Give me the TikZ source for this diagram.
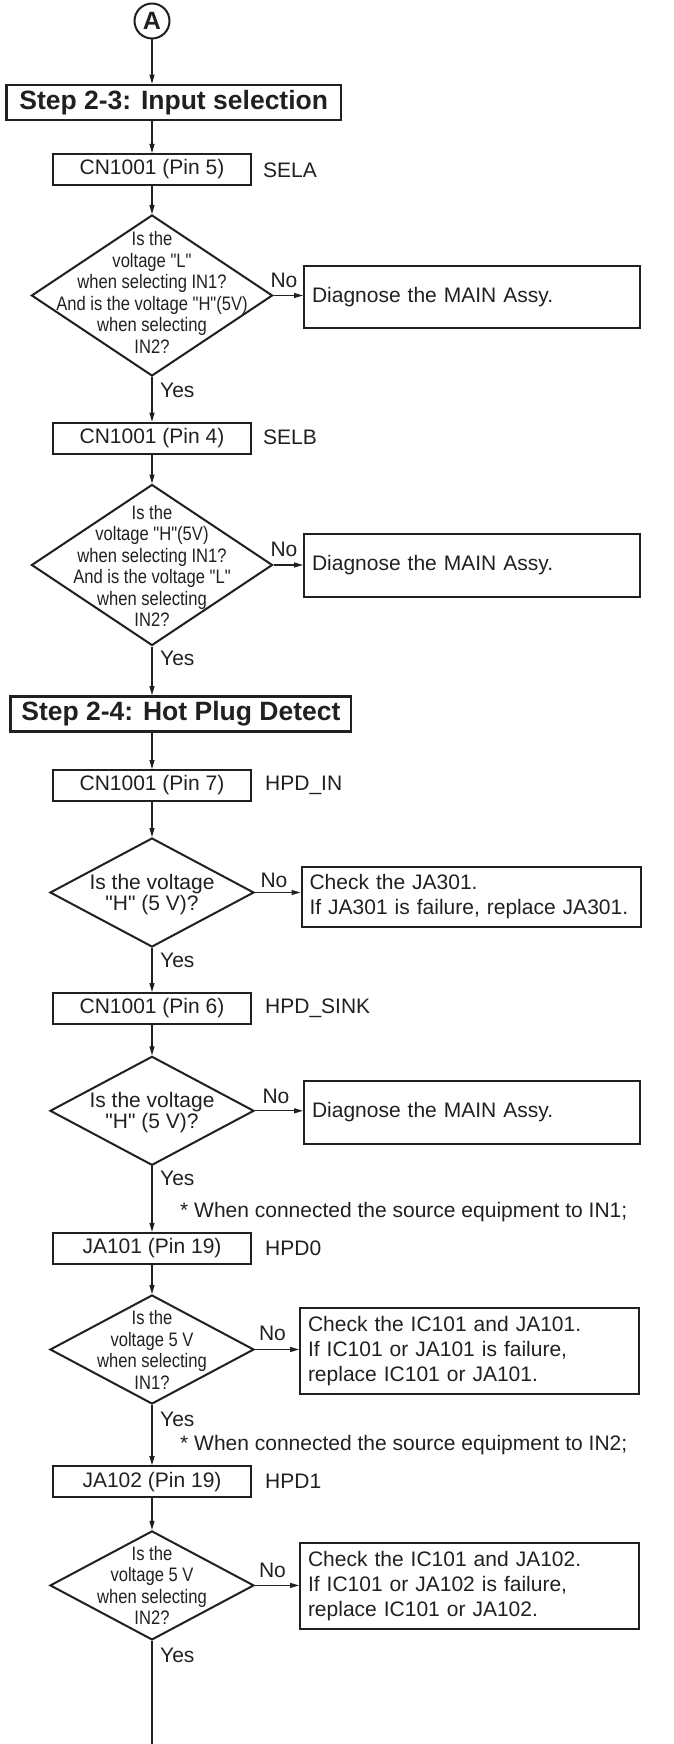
\documentclass[tikz,border=0pt]{standalone}
\usepackage{fontspec}
\setmainfont{Liberation Sans}[Ligatures=TeXOff]
\newfontfamily\condfont{Liberation Sans}[FakeStretch=0.85]
\usetikzlibrary{arrows.meta,shapes.geometric}
\definecolor{ink}{RGB}{35,31,32}
\begin{document}
\begin{tikzpicture}[x=1pt,y=-1pt,
  every node/.style={text=ink},
  titlebox/.style={draw=ink,line width=2.6pt,font=\bfseries\fontsize{26.5}{30}\selectfont,inner sep=0pt,minimum height=35pt},
  pinbox/.style={draw=ink,line width=2pt,font=\fontsize{21}{25}\selectfont,minimum width=198pt,minimum height=31pt,inner sep=0pt},
  dia/.style={draw=ink,line width=2pt,shape=diamond,inner sep=0pt},
  bigdia/.style={dia,minimum width=241pt,minimum height=161pt},
  smalldia/.style={dia,minimum width=204pt,minimum height=109pt},
  ctext/.style={font=\condfont\fontsize{19.5}{21.5}\selectfont,align=center,inner sep=0pt},
  ntext/.style={font=\fontsize{21}{21}\selectfont,align=center,inner sep=0pt},
  diagbox/.style={draw=ink,line width=2pt,font=\fontsize{21}{25}\selectfont,align=left,inner xsep=8pt,inner ysep=0pt,text width=320pt},
  checkbox/.style={draw=ink,line width=2pt,font=\fontsize{21}{25}\selectfont,align=left,inner xsep=8pt,inner ysep=0pt,text width=323pt},
  lbl/.style={font=\fontsize{21}{25}\selectfont,inner sep=0pt,anchor=west},
  nolbl/.style={font=\fontsize{21}{25}\selectfont,inner sep=0pt},
  conn/.style={draw=ink,line width=1.1pt,-{Triangle[length=9pt,width=5pt]}},
  plain/.style={draw=ink,line width=1.1pt},
  ]
\useasboundingbox (0,0) rectangle (673,1744);

% --- A ---
\node[circle,draw=ink,line width=2pt,minimum size=35pt,inner sep=0pt,font=\bfseries\fontsize{25}{25}\selectfont] (A) at (152,21) {A};

% --- Step 2-3 ---
\node[titlebox,minimum width=334.6pt] (s23) at (173.7,102.5) {Step 2-3: Input selection};
\node[pinbox] (p5) at (152,169.5) {CN1001 (Pin 5)};
\node[lbl] (sela) at (263,170) {SELA};

\node[bigdia] (d1) at (152,295.5) {};
\node[ctext] (d1t) at (152,292.5) {Is the\\voltage "L"\\when selecting IN1?\\And is the voltage "H"(5V)\\when selecting\\IN2?};
\node[diagbox,minimum height=62pt] (r1) at (472,297) {Diagnose the MAIN Assy.};
\node[nolbl] (n1) at (284,280) {No};
\node[lbl] (y1) at (160,390) {Yes};

\node[pinbox] (p4) at (152,438.2) {CN1001 (Pin 4)};
\node[lbl] (selb) at (263,437.5) {SELB};

\node[bigdia] (d2) at (152,565) {};
\node[ctext] (d2t) at (152,566) {Is the\\voltage "H"(5V)\\when selecting IN1?\\And is the voltage "L"\\when selecting\\IN2?};
\node[diagbox,minimum height=63pt] (r2) at (472,565.5) {Diagnose the MAIN Assy.};
\node[nolbl] (n2) at (284,549) {No};
\node[lbl] (y2) at (160,658) {Yes};

% --- Step 2-4 ---
\node[titlebox,minimum width=340.3pt] (s24) at (180.9,713.9) {Step 2-4: Hot Plug Detect};
\node[pinbox] (p7) at (152,785.5) {CN1001 (Pin 7)};
\node[lbl] (hpdin) at (265,785) {HPD\_IN};

\node[smalldia] (d3) at (152,892.5) {};
\node[ntext] (d3t) at (152,894.5) {Is the voltage\\"H" (5 V)?};
\node[checkbox,minimum height=60pt] (r3) at (471,896.7) {Check the JA301.\\If JA301 is failure, replace JA301.};
\node[nolbl] (n3) at (274,880) {No};
\node[lbl] (y3) at (160,960) {Yes};

\node[pinbox] (p6) at (152,1008.5) {CN1001 (Pin 6)};
\node[lbl] (hpdsink) at (265,1008) {HPD\_SINK};

\node[smalldia] (d4) at (152,1110.8) {};
\node[ntext] (d4t) at (152,1112.8) {Is the voltage\\"H" (5 V)?};
\node[diagbox,minimum height=63pt] (r4) at (472,1112.5) {Diagnose the MAIN Assy.};
\node[nolbl] (n4) at (276,1096.7) {No};
\node[lbl] (y4) at (160,1178) {Yes};

\node[lbl] (note1) at (180,1211.7) {* When connected the source equipment to IN1;};
\node[pinbox] (ja1) at (152,1248.3) {JA101 (Pin 19)};
\node[lbl] (hpd0) at (265,1248) {HPD0};

\node[smalldia] (d5) at (152,1349.5) {};
\node[ctext] (d5t) at (152,1350) {Is the\\voltage 5 V\\when selecting\\IN1?};
\node[checkbox,minimum height=86pt] (r5) at (469.5,1350.9) {Check the IC101 and JA101.\\If IC101 or JA101 is failure,\\replace IC101 or JA101.};
\node[nolbl] (n5) at (272.5,1333) {No};
\node[lbl] (y5) at (160,1419) {Yes};

\node[lbl] (note2) at (180,1445) {* When connected the source equipment to IN2;};
\node[pinbox] (ja2) at (152,1481.7) {JA102 (Pin 19)};
\node[lbl] (hpd1) at (265,1481.7) {HPD1};

\node[smalldia] (d6) at (152,1585.4) {};
\node[ctext] (d6t) at (152,1585.5) {Is the\\voltage 5 V\\when selecting\\IN2?};
\node[checkbox,minimum height=86pt] (r6) at (469.5,1586.3) {Check the IC101 and JA102.\\If IC101 or JA102 is failure,\\replace IC101 or JA102.};
\node[nolbl] (n6) at (272.5,1570) {No};
\node[lbl] (y6) at (160,1655) {Yes};

\coordinate (bottom) at (152,1744);

% --- connectors ---
\draw[conn] (A.south) -- (A.south |- s23.north);
\draw[conn] (s23.south -| p5.north) -- (p5.north);
\draw[conn] (p5.south) -- (d1.north);
\draw[conn] (d1.east) -- (d1.east -| r1.west);
\draw[conn] (d1.south) -- (p4.north);
\draw[conn] (p4.south) -- (d2.north);
\draw[conn] (d2.east) -- (d2.east -| r2.west);
\draw[conn] (d2.south) -- (d2.south |- s24.north);
\draw[conn] (s24.south -| p7.north) -- (p7.north);
\draw[conn] (p7.south) -- (d3.north);
\draw[conn] (d3.east) -- (d3.east -| r3.west);
\draw[conn] (d3.south) -- (p6.north);
\draw[conn] (p6.south) -- (d4.north);
\draw[conn] (d4.east) -- (d4.east -| r4.west);
\draw[conn] (d4.south) -- (ja1.north);
\draw[conn] (ja1.south) -- (d5.north);
\draw[conn] (d5.east) -- (d5.east -| r5.west);
\draw[conn] (d5.south) -- (ja2.north);
\draw[conn] (ja2.south) -- (d6.north);
\draw[conn] (d6.east) -- (d6.east -| r6.west);
\draw[plain] (d6.south) -- (bottom);
\end{tikzpicture}
\end{document}
